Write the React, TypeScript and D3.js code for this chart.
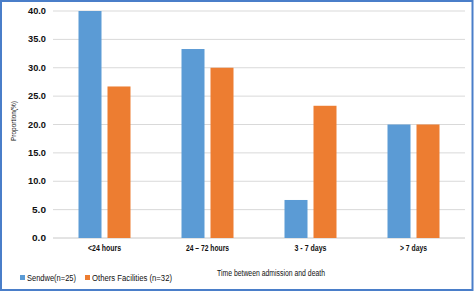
import React from "react";
import * as d3 from "d3";

const categories = ["<24 hours", "24 \u2013 72 hours", "3 - 7 days", "> 7 days"];
const sendwe = [40.0, 33.3, 6.7, 20.0];
const others = [26.7, 30.0, 23.3, 20.0];
const yTicks = [0, 5, 10, 15, 20, 25, 30, 35, 40];
const seriesNames = ["Sendwe(n=25)", "Others Facilities (n=32)"];

const W = 474, H = 292;
const m = { left: 53, right: 9, top: 11, bottom: 54 };
const FONT = "'Liberation Sans', Arial, sans-serif";
const catWidths = [33, 43, 32, 27];

export default function App() {
  const x = d3.scaleBand<string>().domain(categories).range([m.left, W - m.right]).padding(0);
  const y = d3.scaleLinear().domain([0, 40]).range([H - m.bottom, m.top]);
  const barW = 23, gap = 6;
  const colors = ["#5B9BD5", "#ED7D31"];
  return (
    <svg width={W} height={H} style={{ position: "absolute", left: 0, top: 0, background: "#fff" }}>
      <rect x={1} y={1} width={W - 2.5} height={H - 3} fill="#fff" stroke="#4A7EC9" strokeWidth={2} />
      {yTicks.map((t) => (
        <g key={t}>
          <line x1={m.left} x2={W - m.right} y1={y(t)} y2={y(t)} stroke={t === 0 ? "#c8c8c8" : "#d9d9d9"} strokeWidth={1} />
          <text x={46} y={y(t) + 3} textAnchor="end" fontSize={8.5} fontFamily={FONT} fontWeight="bold" fill="#111"
            textLength={t >= 10 ? 18 : 14} lengthAdjust="spacingAndGlyphs">
            {t.toFixed(1)}
          </text>
        </g>
      ))}
      {categories.map((c, i) => {
        const cx = x(c)! + x.bandwidth() / 2;
        return (
          <g key={c}>
            <rect x={cx - gap / 2 - barW} y={y(sendwe[i])} width={barW} height={y(0) - y(sendwe[i])} fill={colors[0]} />
            <rect x={cx + gap / 2} y={y(others[i])} width={barW} height={y(0) - y(others[i])} fill={colors[1]} />
            <text x={cx} y={251} textAnchor="middle" fontSize={8.5} fontFamily={FONT} fontWeight="bold" fill="#111"
              textLength={catWidths[i]} lengthAdjust="spacingAndGlyphs">
              {c}
            </text>
          </g>
        );
      })}
      <text transform={`translate(16,121) rotate(-90)`} textAnchor="middle" fontSize={8} fontFamily={FONT} fill="#111"
        textLength={40} lengthAdjust="spacingAndGlyphs">
        Proportion(%)
      </text>
      <text x={271} y={276} textAnchor="middle" fontSize={8.5} fontFamily={FONT} fill="#111"
        textLength={108} lengthAdjust="spacingAndGlyphs">
        Time between admission and death
      </text>
      <rect x={20} y={275} width={5} height={5} fill={colors[0]} />
      <text x={27} y={281} fontSize={8.5} fontFamily={FONT} fill="#111" textLength={49} lengthAdjust="spacingAndGlyphs">{seriesNames[0]}</text>
      <rect x={85} y={275} width={5} height={5} fill={colors[1]} />
      <text x={92} y={281} fontSize={8.5} fontFamily={FONT} fill="#111" textLength={80} lengthAdjust="spacingAndGlyphs">{seriesNames[1]}</text>
    </svg>
  );
}
